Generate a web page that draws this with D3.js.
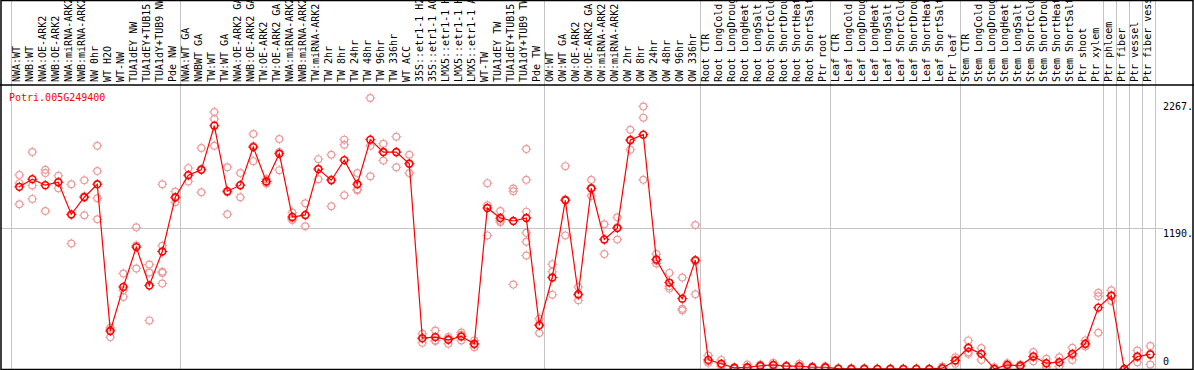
<!DOCTYPE html>
<html>
<head>
<meta charset="utf-8">
<script src="https://cdn.jsdelivr.net/npm/d3@7"></script>
<style>
  body { margin: 0; background: #fff; }
  svg { display: block; font-family: "DejaVu Sans Mono", monospace; font-size: 10px; }
</style>
</head>
<body>
<div id="chart"></div>
<script>
const gene = "Potri.005G249400";

const labels = [
  "NWA:WT", "NWB:WT", "NWA:OE-ARK2", "NWB:OE-ARK2", "NWA:miRNA-ARK2", "NWB:miRNA-ARK2",
  "NW 0hr", "WT H2O", "WT-NW", "TUA1dEY NW", "TUA1dEY+TUB15", "TUA1dY+TUB9 NW", "Pde NW",
  "NWA:WT GA", "NWBWT GA", "TW:WT", "TW:WT GA", "NWA:OE-ARK2 GA", "NWB:OE-ARK2 GA",
  "TW:OE-ARK2", "TW:OE-ARK2 GA", "NWA:miRNA-ARK2", "NWB:miRNA-ARK2", "TW:miRNA-ARK2",
  "TW 2hr", "TW 8hr", "TW 24hr", "TW 48hr", "TW 96hr", "TW 336hr", "WT ACC",
  "35S::etr1-1 H2", "35S::etr1-1 AC", "LMX5::etr1-1 H", "LMX5::etr1-1 H", "LMX5::etr1-1 A", "WT-TW",
  "TUA1dEY TW", "TUA1dEY+TUB15", "TUA1dY+TUB9 TW", "Pde TW",
  "OW:WT", "OW:WT GA", "OW:OE-ARK2", "OW:OE-ARK2 GA", "OW:miRNA-ARK2", "OW:miRNA-ARK2",
  "OW 2hr", "OW 8hr", "OW 24hr", "OW 48hr", "OW 96hr", "OW 336hr",
  "Root CTR", "Root LongCold", "Root LongDroug", "Root LongHeat", "Root LongSalt",
  "Root ShortCold", "Root ShortDrou", "Root ShortHeat", "Root ShortSalt", "Ptr root",
  "Leaf CTR", "Leaf LongCold", "Leaf LongDroug", "Leaf LongHeat", "Leaf LongSalt",
  "Leaf ShortCold", "Leaf ShortDrou", "Leaf ShortHeat", "Leaf ShortSalt", "Ptr leaf",
  "Stem CTR", "Stem LongCold", "Stem LongDroug", "Stem LongHeat", "Stem LongSalt",
  "Stem ShortCold", "Stem ShortDrou", "Stem ShortHeat", "Stem ShortSalt", "Ptr shoot",
  "Ptr xylem", "Ptr phloem", "Ptr fiber", "Ptr vessel", "Ptr fiber vess"
];

const means = [
  1541, 1606, 1555, 1580, 1308, 1453, 1563, 321, 694, 1031, 706, 994, 1453,
  1640, 1685, 2058, 1504, 1555, 1877, 1586, 1821, 1286, 1303, 1691, 1597, 1767,
  1563, 1940, 1835, 1835, 1736, 261, 270, 247, 275, 213, 1362, 1277, 1252, 1277, 369,
  774, 1427, 632, 1529, 1096, 1192, 1937, 1982, 926, 731, 595, 921,
  77, 44, 10, 15, 27, 35, 24, 24, 15, 15,
  3, 2, 2, 1, 1, 1, 1, 1, 7, 72,
  179, 128, 1, 35, 27, 106, 49, 58, 128, 213,
  519, 621, 0, 106, 123
];

const reps = [
  [1642, 1572, 1393], [1835, 1552, 1439], [1685, 1657, 1337], [1634, 1577, 1529],
  [1563, 1303, 1062], [1597, 1461, 1300], [1889, 1674, 1444, 1266], [349, 332, 270],
  [808, 666, 610], [1198, 1045, 850], [884, 816, 411], [1563, 1043, 822, 813, 723],
  [1501, 1447, 1410],
  [1699, 1634, 1586], [1869, 1691, 1495], [2174, 2115, 1889], [1707, 1495, 1308],
  [1657, 1555, 1453], [1988, 1886, 1758], [1606, 1583, 1569], [1945, 1835, 1682],
  [1323, 1274, 1260], [1402, 1300, 1207], [1775, 1691, 1606], [1812, 1603, 1376],
  [1940, 1897, 1470], [1657, 1521, 1512], [2293, 1889, 1631], [1906, 1835, 1764],
  [1965, 1832, 1707], [1812, 1739, 1657], [298, 256, 222], [326, 242, 236],
  [270, 256, 213], [309, 290, 242], [242, 205, 185], [1572, 1385, 1130],
  [1337, 1255, 1241], [1526, 1504, 714], [1860, 1600, 1331, 1153, 1076, 960],
  [426, 377, 304],
  [887, 822, 629], [1716, 1436, 1130], [694, 621, 581], [1600, 1524, 1464],
  [1224, 1093, 972], [1283, 1198, 1096], [2024, 1931, 1855], [2220, 2126, 1600],
  [972, 915, 893], [813, 700, 680], [774, 510, 496], [1218, 912, 632],
  [114, 66, 52], [77, 32, 21], [15, 7, 4], [38, 10, 0], [38, 21, 21], [52, 29, 24],
  [29, 21, 21], [44, 15, 12], [21, 12, 10], [24, 12, 7],
  [5, 2, 1], [4, 2, 1], [3, 2, 1], [2, 1, 0], [2, 1, 0], [2, 1, 0], [2, 1, 0],
  [2, 1, 0], [21, 0, 0], [100, 72, 44],
  [242, 143, 128], [177, 128, 77], [15, 0, 0], [49, 29, 21], [38, 21, 18],
  [143, 100, 66], [86, 44, 15], [100, 58, 21], [179, 114, 77], [242, 208, 191],
  [644, 615, 307], [666, 615, 576], [0, 0, 0], [157, 100, 58], [194, 128, 38]
];

// index of the first column of each block (separator lines)
const groupStarts = [0, 13, 41, 53, 63, 73, 84, 85, 86, 87, 88];
const yTicks = [2267, 1190, 0];

const width = 1194, height = 370;
const labelBottom = 85, plotBottom = 369, plotRight = 1163;

const svg = d3.select("#chart").append("svg")
  .attr("width", width)
  .attr("height", height);

const x = d3.scaleLinear().domain([0, 87]).range([19.3, 1150.3]);
const y = d3.scaleLinear().domain([0, 2267]).range([plotBottom, 101]);

// grid
svg.append("line")
  .attr("x1", 0).attr("x2", plotRight)
  .attr("y1", Math.round(y(1190)) + 0.5).attr("y2", Math.round(y(1190)) + 0.5)
  .attr("stroke", "#c4c4c4").attr("stroke-width", 1);

svg.append("g").selectAll("line")
  .data(groupStarts)
  .join("line")
  .attr("x1", d => Math.round(x(d) - 8) + 0.5).attr("x2", d => Math.round(x(d) - 8) + 0.5)
  .attr("y1", 0).attr("y2", plotBottom)
  .attr("stroke", "#c4c4c4").attr("stroke-width", 1);

// sample labels
svg.append("g").selectAll("text")
  .data(labels)
  .join("text")
  .attr("transform", (d, i) => `translate(${x(i) + 1},82) rotate(-90)`)
  .attr("fill", "#000")
  .text(d => d);

function marker(g, color, sw) {
  g.append("circle").attr("r", 3.4).attr("fill", "none")
    .attr("stroke", color).attr("stroke-width", sw);
  g.append("path")
    .attr("d", "M0,-5V-3.5M0,3.5V5M-5,0H-3.5M3.5,0H5")
    .attr("stroke", color).attr("stroke-width", 1);
}

// replicates
const repPts = reps.flatMap((r, i) => r.map(v => ({ i, v })));
svg.append("g").selectAll("g")
  .data(repPts)
  .join("g")
  .attr("transform", d => `translate(${x(d.i)},${y(d.v)})`)
  .each(function () { marker(d3.select(this), "#ee9a9a", 1.2); });

// mean line
const line = d3.line().x((d, i) => x(i)).y(d => y(d));
svg.append("path")
  .datum(means)
  .attr("d", line)
  .attr("fill", "none")
  .attr("stroke", "#ff0000")
  .attr("stroke-width", 1.2);

svg.append("g").selectAll("g")
  .data(means)
  .join("g")
  .attr("transform", (d, i) => `translate(${x(i)},${y(d)})`)
  .each(function () { marker(d3.select(this), "#ff0000", 1.6); });

// title
svg.append("text")
  .attr("x", 9).attr("y", 101)
  .attr("fill", "#ff0000")
  .text(gene);

// right axis labels
svg.append("g").selectAll("text")
  .data(yTicks)
  .join("text")
  .attr("x", plotRight)
  .attr("y", d => d === 0 ? y(d) - 4 : y(d) + 9)
  .attr("fill", "#000")
  .text(d => d === 0 ? "0" : d + ".");

// frame
svg.append("rect")
  .attr("x", 1).attr("y", 0.5)
  .attr("width", width - 2).attr("height", plotBottom)
  .attr("fill", "none").attr("stroke", "#000").attr("stroke-width", 1.5);
svg.append("line")
  .attr("x1", 0).attr("x2", width)
  .attr("y1", labelBottom).attr("y2", labelBottom)
  .attr("stroke", "#000").attr("stroke-width", 1.5);
</script>
</body>
</html>
